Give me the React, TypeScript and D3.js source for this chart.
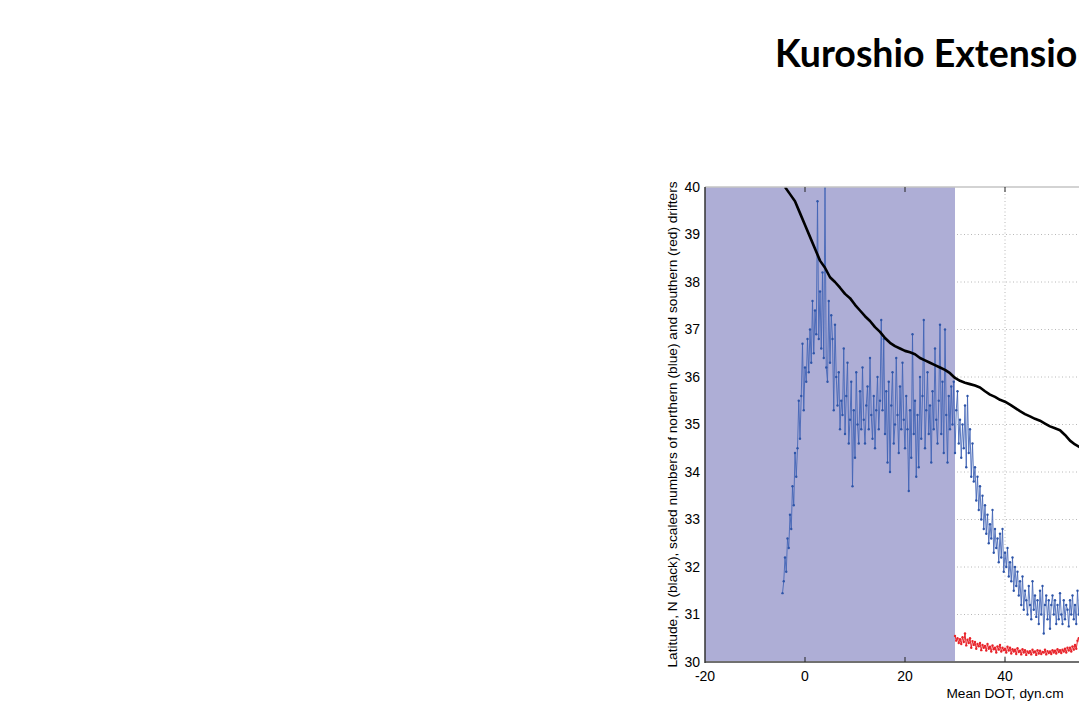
import React from "react";
import * as d3 from "d3";

const W = 1079;
const H = 703;

const titleText = "Kuroshio Extension";
const xLabel = "Mean DOT, dyn.cm";
const yLabel = "Latitude, N (black), scaled numbers of northern (blue) and southern (red) drifters";

const xTicks = [-20, 0, 20, 40, 60, 80, 100];
const yTicks = [30, 31, 32, 33, 34, 35, 36, 37, 38, 39, 40];
const shadeRange = [-20, 30];

// black: mean latitude vs DOT
const blackStart = -4;
const blackStep = 1;
const blackLat = [
  40.0, 39.85, 39.7, 39.45, 39.2, 38.95, 38.7, 38.45, 38.3, 38.1,
  38.0, 37.88, 37.75, 37.66, 37.52, 37.4, 37.28, 37.18, 37.05, 36.95,
  36.82, 36.72, 36.65, 36.6, 36.55, 36.52, 36.48, 36.4, 36.35, 36.3,
  36.25, 36.2, 36.15, 36.08, 35.98, 35.92, 35.88, 35.85, 35.82, 35.78,
  35.7, 35.63, 35.58, 35.52, 35.48, 35.42, 35.35, 35.28, 35.22, 35.17,
  35.12, 35.08, 35.02, 34.96, 34.92, 34.88, 34.78, 34.66, 34.58, 34.52,
  34.45,
];

// blue: scaled numbers of northern drifters
const blueStart = -4.5;
const blueStep = 0.25;
const blueLat = [
  31.45, 31.7, 32.2, 31.9,
  32.6, 32.4, 33.1, 32.8,
  33.7, 33.3, 34.4, 33.9,
  34.5, 35.5, 34.7, 35.6,
  36.7, 35.3, 36.2, 35.9,
  36.8, 36.1, 37.0, 36.3,
  37.6, 36.5, 37.4, 36.9,
  39.7, 36.8, 37.8, 36.6,
  38.2, 36.4, 40.0, 36.2,
  35.9, 37.6, 36.3, 37.3,
  36.8, 35.3, 37.1, 36.0,
  35.4, 36.1, 34.9, 35.5,
  35.2, 36.6, 34.8, 35.6,
  36.3, 34.6, 35.1, 35.9,
  33.7, 35.3, 34.3, 36.1,
  35.0, 34.6, 35.7, 34.9,
  36.2, 35.1, 34.6, 35.4,
  35.8, 34.9, 36.4, 35.2,
  34.7, 35.6, 34.5, 35.3,
  36.0, 34.9, 35.5, 37.2,
  35.3, 36.8, 34.8, 35.7,
  34.2, 35.9, 34.0, 35.4,
  36.1, 34.6, 35.0, 36.4,
  35.2, 34.4, 35.8, 34.9,
  36.3, 35.1, 34.5, 35.6,
  34.9, 33.6, 35.3, 34.3,
  36.9, 34.8, 35.5, 33.9,
  35.2, 34.1, 36.0, 34.7,
  35.6, 37.2, 34.5, 35.3,
  36.1, 34.8, 35.4, 34.2,
  35.7, 34.9, 36.6, 35.1,
  34.6, 35.5, 37.1, 34.8,
  35.9, 34.4, 37.0, 35.2,
  34.2, 35.6, 34.9, 35.8,
  35.0, 35.9, 34.4, 35.3,
  35.7, 34.6, 35.1, 34.3,
  35.0, 34.5, 35.4, 34.1,
  35.6, 34.4, 34.9, 33.9,
  34.6, 33.8, 34.1, 33.4,
  33.9, 33.2, 33.7, 33.0,
  33.5, 32.8, 33.3, 32.7,
  33.1, 32.5, 32.9, 32.6,
  33.2, 32.3, 32.8, 32.4,
  32.6, 32.1, 32.7, 32.2,
  32.8, 31.9, 32.3, 32.0,
  32.4, 31.8, 32.1, 31.7,
  32.2, 31.5, 32.0, 31.6,
  31.9, 31.4, 31.7, 31.2,
  31.8, 31.1, 31.5, 31.3,
  31.0, 31.6, 31.2, 30.9,
  31.7, 31.1, 31.4, 30.95,
  31.3, 30.8, 31.5, 31.0,
  31.6, 30.6, 31.2, 31.4,
  30.9, 31.3, 30.7, 31.2,
  31.4, 31.0, 31.3, 30.8,
  31.2, 30.9, 31.45, 31.0,
  30.8, 31.3, 30.9, 31.2,
  31.1, 30.75, 31.3, 31.0,
  31.4, 30.9, 31.2, 30.8,
  31.5, 31.0, 31.3, 31.6,
  31.1, 31.4, 31.0,
];

// red: scaled numbers of southern drifters
const redStart = 30;
const redStep = 0.25;
const redLat = [
  30.55, 30.45, 30.5, 30.4,
  30.48, 30.38, 30.52, 30.42,
  30.6, 30.35, 30.47, 30.4,
  30.5, 30.3, 30.44, 30.36,
  30.42, 30.28, 30.38, 30.33,
  30.4, 30.25, 30.36, 30.3,
  30.34, 30.24, 30.38, 30.28,
  30.32, 30.22, 30.35, 30.27,
  30.3, 30.2, 30.33, 30.26,
  30.36, 30.22, 30.3, 30.25,
  30.28, 30.2, 30.32, 30.24,
  30.3, 30.18, 30.27, 30.22,
  30.26, 30.17, 30.29, 30.21,
  30.24, 30.16, 30.27, 30.2,
  30.25, 30.15, 30.22, 30.19,
  30.23, 30.16, 30.26, 30.2,
  30.22, 30.15, 30.25, 30.18,
  30.24, 30.17, 30.21, 30.2,
  30.26, 30.16, 30.23, 30.19,
  30.22, 30.17, 30.25, 30.2,
  30.24, 30.18, 30.27, 30.21,
  30.25, 30.19, 30.26, 30.22,
  30.28, 30.2, 30.3, 30.24,
  30.3, 30.22, 30.33, 30.26,
  30.36, 30.28, 30.45, 30.5,
  30.42, 30.55, 30.48, 30.5,
];

const toPts = (start: number, step: number, vals: number[]) =>
  vals.map((v, i) => [start + i * step, v] as [number, number]);

export default function App() {
  const left = 705;
  const top = 187;
  const bottom = 662;
  const x = d3.scaleLinear().domain([-20, 100]).range([left, left + 600]);
  const y = d3.scaleLinear().domain([30, 40]).range([bottom, top]);
  const right = x(100);

  const line = d3
    .line<[number, number]>()
    .x((d) => x(d[0]))
    .y((d) => y(d[1]));

  const black = toPts(blackStart, blackStep, blackLat);
  const blue = toPts(blueStart, blueStep, blueLat);
  const red = toPts(redStart, redStep, redLat);

  const blueCol = "#2E55A8";
  const redCol = "#E8232A";
  const visibleXTicks = xTicks.filter((t) => x(t) + 10 < W);

  return (
    <div style={{ position: "fixed", left: 0, top: 0, width: W, height: H, overflow: "hidden", background: "#fff" }}>
      <svg width={W} height={H} style={{ display: "block" }}>
        <defs>
          <clipPath id="plotclip">
            <rect x={left} y={top} width={right - left} height={bottom - top} />
          </clipPath>
        </defs>
        <text x={775} y={67} fontFamily="Lato, 'Open Sans', sans-serif" fontWeight={700} fontSize={37.5} fill="#000">
          {titleText}
        </text>

        {/* grid */}
        <g stroke="#b8b8b8" strokeWidth={1} strokeDasharray="1,2.5">
          {yTicks.slice(1, -1).map((t) => (
            <line key={"gy" + t} x1={left} x2={right} y1={y(t)} y2={y(t)} />
          ))}
          {xTicks.slice(1, -1).map((t) => (
            <line key={"gx" + t} x1={x(t)} x2={x(t)} y1={top} y2={bottom} />
          ))}
        </g>

        {/* shaded region */}
        <rect
          x={x(shadeRange[0])}
          y={top}
          width={x(shadeRange[1]) - x(shadeRange[0])}
          height={bottom - top}
          fill="#AEAED6"
        />

        <g clipPath="url(#plotclip)">
          {/* red */}
          <path d={line(red) || ""} fill="none" stroke={redCol} strokeWidth={1} />
          {red.map((d, i) => (
            <circle key={"r" + i} cx={x(d[0])} cy={y(d[1])} r={1.2} fill={redCol} />
          ))}
          {/* blue */}
          <path d={line(blue) || ""} fill="none" stroke="#3F63B5" strokeWidth={1} strokeOpacity={0.85} />
          {blue.map((d, i) => (
            <circle key={"b" + i} cx={x(d[0])} cy={y(d[1])} r={1.2} fill={blueCol} />
          ))}
          {/* black */}
          <path d={line(black) || ""} fill="none" stroke="#000" strokeWidth={2.6} strokeLinejoin="round" />
        </g>

        {/* axes frame */}
        <line x1={left} x2={right} y1={top} y2={top} stroke="#c4c4c4" strokeWidth={1.5} />
        <line x1={left} x2={right} y1={bottom} y2={bottom} stroke="#707070" strokeWidth={2} />
        <line x1={left} x2={left} y1={top} y2={bottom + 1} stroke="#333" strokeWidth={1.5} />
        {xTicks.slice(1).map((t) => (
          <g key={"tk" + t} stroke="#222" strokeWidth={1}>
            <line x1={x(t)} x2={x(t)} y1={bottom} y2={bottom - 5} />
            <line x1={x(t)} x2={x(t)} y1={top} y2={top + 5} />
          </g>
        ))}

        {/* tick labels */}
        <g fontFamily="'Liberation Sans', Arial, sans-serif" fontSize={14} fill="#000">
          {yTicks.map((t) => (
            <text key={"yl" + t} x={left - 5} y={y(t)} dy="0.35em" textAnchor="end">
              {t}
            </text>
          ))}
          {visibleXTicks.map((t) => (
            <text key={"xl" + t} x={x(t)} y={bottom + 14} dy="0.35em" textAnchor="middle">
              {t}
            </text>
          ))}
          <text x={x(40)} y={693} dy="0.35em" textAnchor="middle" fontSize={13.7}>
            {xLabel}
          </text>
          <text
            transform={`translate(672, ${(top + bottom) / 2}) rotate(-90)`}
            textAnchor="middle"
            dy="0.35em"
            fontSize={13.7}
          >
            {yLabel}
          </text>
        </g>
      </svg>
    </div>
  );
}
